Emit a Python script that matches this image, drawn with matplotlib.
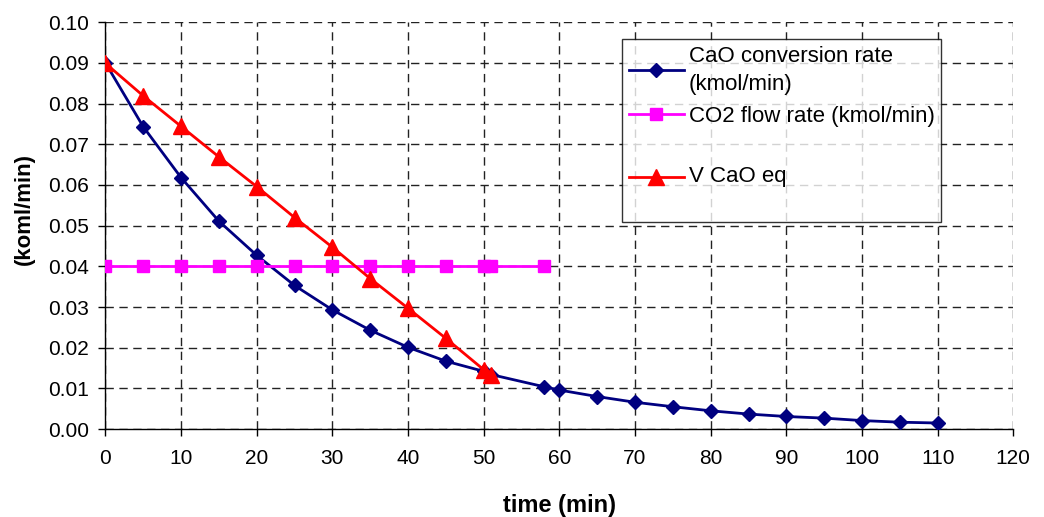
import numpy as np
import matplotlib
matplotlib.use("Agg")
import matplotlib.pyplot as plt

plt.rcParams['font.family'] = ['Liberation Sans', 'DejaVu Sans']

# CaO conversion rate (kmol/min)
t_cao = [0, 5, 10, 15, 20, 25, 30, 35, 40, 45, 50, 51, 58, 60, 65, 70, 75, 80,
         85, 90, 95, 100, 105, 110]
v_cao = [0.0900, 0.0743, 0.0618, 0.0511, 0.0427, 0.0353, 0.0293, 0.0243,
         0.0201, 0.0167, 0.0142, 0.0134, 0.0104, 0.0096, 0.0080, 0.0066,
         0.0055, 0.0045, 0.0037, 0.0031, 0.0027, 0.0021, 0.0017, 0.0015]

# CO2 flow rate (kmol/min)
t_co2 = [0, 5, 10, 15, 20, 25, 30, 35, 40, 45, 50, 51, 58]
v_co2 = [0.04] * len(t_co2)

# V CaO eq
t_eq = [0, 5, 10, 15, 20, 25, 30, 35, 40, 45, 50, 51]
v_eq = [0.0899, 0.0819, 0.0744, 0.0669, 0.0596, 0.0520, 0.0447, 0.0370,
        0.0297, 0.0223, 0.0146, 0.0132]

labels = ["CaO conversion rate\n(kmol/min)", "CO2 flow rate (kmol/min)",
          "\nV CaO eq\n"]

fig = plt.figure(figsize=(10.44, 5.17), dpi=100)
ax = fig.add_axes([0.101, 0.170, 0.8696, 0.787])

ax.plot(t_cao, v_cao, color="#000080", lw=2, marker="D", ms=7.5,
        label=labels[0], zorder=3)
ax.plot(t_co2, v_co2, color="#FF00FF", lw=2, marker="s", ms=9,
        label=labels[1], zorder=3)
ax.plot(t_eq, v_eq, color="#FF0000", lw=2, marker="^", ms=11,
        label=labels[2], zorder=4)

ax.set_xlim(0, 120)
ax.set_ylim(0, 0.10)
ax.set_xticks(np.arange(0, 121, 10))
ax.set_yticks(np.arange(0, 0.101, 0.01))
ax.set_yticklabels(["%.2f" % v for v in np.arange(0, 0.101, 0.01)])
ax.tick_params(labelsize=15, direction="out", length=5, width=1, color="black")
ax.tick_params(axis="x", pad=9)
ax.tick_params(axis="y", pad=7)

ax.grid(True, color="#222222", linestyle=(0, (6, 4)), lw=1)
ax.spines["top"].set_visible(False)
ax.spines["right"].set_visible(False)
for s in ("left", "bottom"):
    ax.spines[s].set_color("black")
    ax.spines[s].set_linewidth(1)

ax.set_xlabel("time (min)", fontsize=17, fontweight="bold")
ax.set_ylabel("(koml/min)", fontsize=16, fontweight="bold")
ax.xaxis.set_label_coords(0.5, -0.16)
ax.yaxis.set_label_coords(-0.078, 0.54)

leg = ax.legend(loc="upper left", bbox_to_anchor=(622 / 1044, 1 - 39 / 517),
                bbox_transform=fig.transFigure, borderaxespad=0,
                fontsize=16, frameon=True, fancybox=False, edgecolor="black",
                handlelength=2.48, handletextpad=0.22, labelspacing=0.5,
                borderpad=0.3)
leg.get_frame().set_linewidth(1)
for txt in leg.get_texts():
    txt.set_linespacing(1.45)

plt.savefig("out.png", dpi=100)
